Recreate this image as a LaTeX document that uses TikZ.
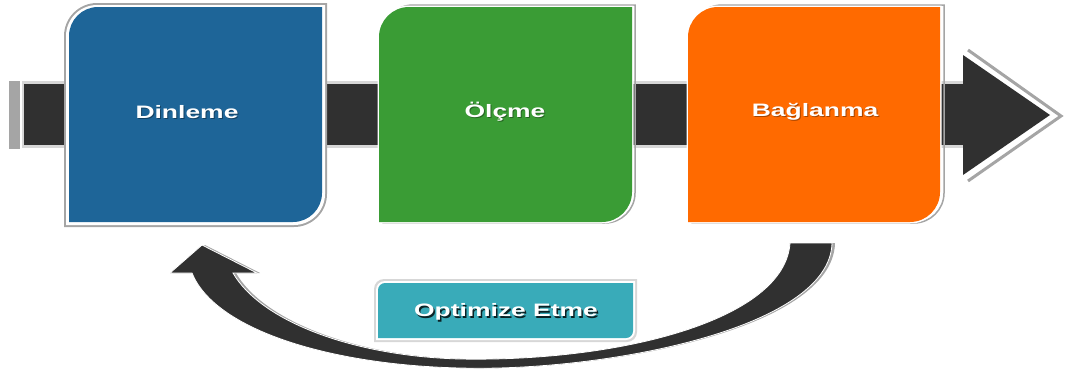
\documentclass[tikz,border=0pt]{standalone}
\usepackage{fontspec}
\setmainfont{Liberation Sans}
\usepackage{graphicx}
\definecolor{cblue}{RGB}{30,101,152}
\definecolor{cgreen}{RGB}{58,156,53}
\definecolor{corange}{RGB}{255,106,0}
\definecolor{cteal}{RGB}{57,171,185}
\definecolor{cdark}{RGB}{48,48,48}
\definecolor{cgray}{RGB}{165,165,165}
\definecolor{clight}{RGB}{215,215,215}
% fill a box with rounded top-left and bottom-right corners: style, x1, y1(top), x2, y2(bottom), r
\newcommand\tbfill[6]{\path[#1] (#2,#5) -- (#2,{#3+#6}) .. controls (#2,{#3+0.45*#6}) and ({#2+0.45*#6},#3) .. ({#2+#6},#3) -- (#4,#3) -- (#4,{#5-#6}) .. controls (#4,{#5-0.45*#6}) and ({#4-0.45*#6},#5) .. ({#4-#6},#5) -- cycle;}
\newcommand\lbl[1]{\fontsize{18}{20}\selectfont\bfseries\scalebox{1.47}[1]{#1}}
\tikzset{
  lab/.style={text=white, inner sep=0pt, anchor=center},
  labshadow/.style={text=black, opacity=0.35, inner sep=0pt, anchor=center},
}
\begin{document}
\begin{tikzpicture}[x=1pt,y=-1pt]
\useasboundingbox (0,0) rectangle (1067,370);
% main bar
\fill[cgray] (9,81) rectangle (20,149);
\fill[clight] (22,81) rectangle (965,148);
\fill[cdark] (24,84) rectangle (965,145);
% arrow head of bar
\draw[cgray, line width=3pt] (968,50) -- (1061,116) -- (968,181);
\fill[white] (966,53) -- (1055,115.5) -- (966,178) -- cycle;
\fill[cdark] (963,55) -- (1050,115) -- (963,175) -- cycle;
% box 1
\tbfill{fill=cgray}{64}{3}{327}{227}{33}
\tbfill{fill=white}{66}{5}{325}{225}{31}
\tbfill{fill=cblue}{69}{7}{322}{222}{29}
% box 2
\tbfill{draw=cgray, line width=1.5pt}{383}{5}{635}{223}{30}
\tbfill{draw=white, line width=3pt, fill=white}{379}{7}{632}{222}{30}
\tbfill{fill=cgreen}{379}{7}{632}{222}{30}
% box 3
\tbfill{draw=cgray, line width=1.5pt}{692}{5}{944}{223}{30}
\tbfill{draw=white, line width=3pt, fill=white}{688}{7}{940}{222}{30}
\tbfill{fill=corange}{688}{7}{940}{222}{30}
% labels
\node[labshadow] at (188,113) {\lbl{Dinleme}};
\node[lab] (d) at (187,112) {\lbl{Dinleme}};
\node[labshadow] at (506,113) {\lbl{Ölçme}};
\node[lab] (o) at (505,112) {\lbl{Ölçme}};
\node[labshadow] at (816,113) {\lbl{Bağlanma}};
\node[lab] (b) at (815,112) {\lbl{Bağlanma}};
% curved return arrow
\coordinate (rs) at (811,243);
\coordinate (rt) at (202,245);
\fill[cgray, xshift=3pt] (832,243) .. controls (830,330) and (600,372) .. (460,368) .. controls (330,365) and (215,330) .. (192,273) -- (170,273) -- (202,245) -- (257,273) -- (233,273) .. controls (260,320) and (350,356) .. (460,359) .. controls (620,362) and (785,320) .. (790,243) -- cycle;
\fill[cdark, draw=white, line width=0.8pt] (832,243) .. controls (830,330) and (600,372) .. (460,368) .. controls (330,365) and (215,330) .. (192,273) -- (170,273) -- (rt) -- (257,273) -- (233,273) .. controls (260,320) and (350,356) .. (460,359) .. controls (620,362) and (785,320) .. (790,243) -- cycle;
% optimize box
\tbfill{fill=clight}{374}{279}{637}{342}{10}
\tbfill{fill=white}{376}{281}{635}{340}{9}
\tbfill{fill=cteal}{378}{283}{633}{338}{7}
\node[text=black, opacity=0.8, inner sep=0pt] at (507.5,313.5) {\lbl{Optimize Etme}};
\node[lab] (opt) at (506,312) {\lbl{Optimize Etme}};
\end{tikzpicture}
\end{document}
